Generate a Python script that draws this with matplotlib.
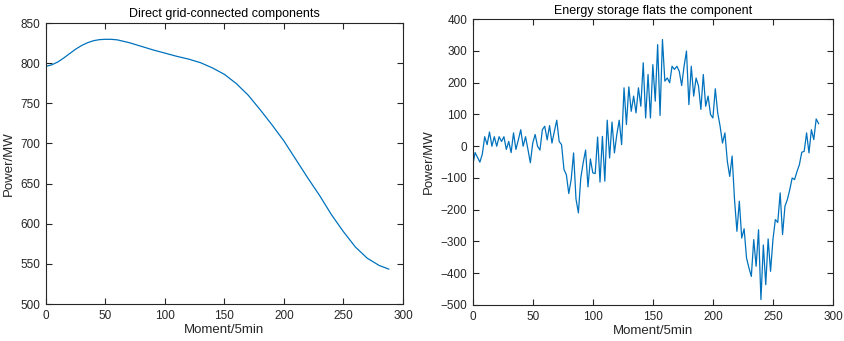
import numpy as np
import matplotlib
matplotlib.use("Agg")
import matplotlib.pyplot as plt

plt.rcParams['font.family'] = ['Liberation Sans', 'DejaVu Sans']

# direct grid-connected component (read every 5-10 steps)
grid_x = [0, 5, 10, 15, 20, 25, 30, 35, 40, 45, 50, 55, 60, 70, 80, 90, 100, 110, 120, 130, 140,
          150, 160, 170, 180, 190, 200, 210, 220, 230, 240, 250, 260, 270, 280, 288]
grid_p = [796, 798, 801.5, 806.5, 812, 817.5, 822, 825.5, 828, 829.3, 829.7, 829.7, 829, 825.5,
          821, 816.5, 812.5, 808.5, 805, 800.5, 794,
          786, 774.5, 760, 742, 723, 703, 680, 657, 635, 611, 590, 571, 557, 548, 543.5]

# energy storage component (read every 2 steps)
store_x = list(range(0, 289, 2))
store_p = [-60, -20, -35, -50, -25, 30, 5, 45, 0, 30,
           0, 30, 15, 30, -10, 15, -20, 42, -10, 20,
           52, 0, 30, -10, -52, 10, 37, 0, -12, 52,
           63, 20, 65, 10, 47, 82, 15, 5, -73, -90,
           -149, -105, -21, -166, -210, -100, -52, -12, -128, -40,
           -84, -86, 29, -113, 31, -110, 82, -37, 76, -21,
           37, 82, 5, 184, 68, 187, 110, 158, 105, 184,
           126, 263, 89, 226, 89, 257, 142, 320, 97, 336,
           205, 215, 200, 252, 242, 252, 236, 191, 252, 300,
           131, 252, 158, 215, 190, 116, 226, 126, 158, 100,
           89, 181, 105, 63, 10, 42, -47, -95, -31, -168,
           -268, -173, -289, -260, -352, -383, -410, -294, -378, -263,
           -483, -311, -436, -292, -394, -294, -231, -240, -147, -278,
           -189, -168, -137, -100, -105, -80, -58, -19, -16, 42,
           -21, 52, 21, 86, 71]

line_col = '#0072BD'

fig = plt.figure(figsize=(8.45, 3.41), dpi=100)
ax1 = fig.add_axes([0.0544, 0.1085, 0.4225, 0.824])
ax2 = fig.add_axes([0.5594, 0.1056, 0.4264, 0.838])

ax1.plot(grid_x, grid_p, '-', color=line_col, lw=0.9)
ax1.set_xlim(0, 300)
ax1.set_ylim(500, 850)
ax1.set_xticks(np.arange(0, 301, 50))
ax1.set_yticks(np.arange(500, 851, 50))
ax1.set_title('Direct grid-connected components', fontsize=9, pad=4)

ax2.plot(store_x, store_p, '-', color=line_col, lw=0.9)
ax2.set_xlim(0, 300)
ax2.set_ylim(-500, 400)
ax2.set_xticks(np.arange(0, 301, 50))
ax2.set_yticks(np.arange(-500, 401, 100))
ax2.set_title('Energy storage flats the component', fontsize=9, pad=4)

for ax in (ax1, ax2):
    ax.set_xlabel('Moment/5min', fontsize=9.5, labelpad=2, color='#262626')
    ax.set_ylabel('Power/MW', fontsize=9.5, labelpad=4, color='#262626')
    ax.tick_params(direction='in', top=True, right=True, length=4, width=0.8,
                   labelsize=8.5, colors='#262626', pad=4)
    for s in ax.spines.values():
        s.set_linewidth(0.8)
        s.set_color('#262626')

fig.savefig('out.png', dpi=100)
